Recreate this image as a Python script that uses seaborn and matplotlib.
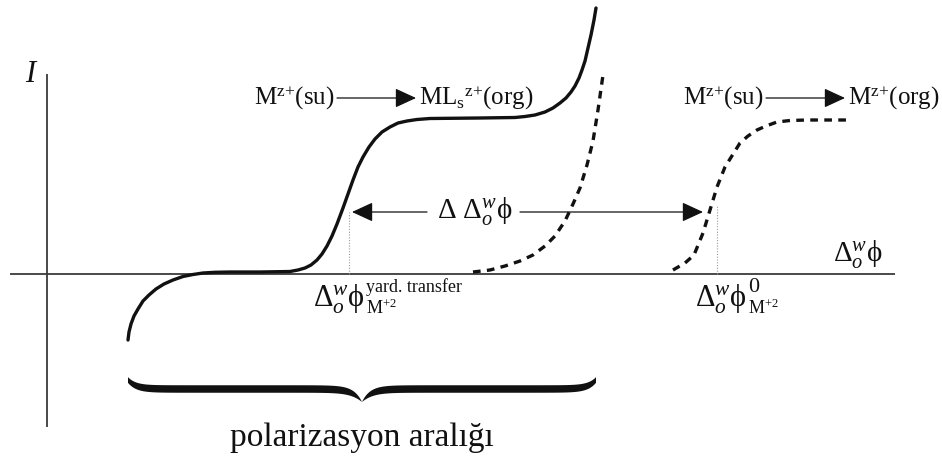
import numpy as np
import matplotlib
matplotlib.use("Agg")
import matplotlib.pyplot as plt
import seaborn as sns

# Facilitated (ligand-assisted) transfer wave: potential E vs current I
solid_E = [8.1, 8.2, 8.4, 8.7, 9.1, 9.6, 10.2, 10.9, 11.7, 12.6, 13.6, 14.6,
           15.6, 16.8, 18.3, 21.3, 24.3, 25.1, 25.8, 26.4, 27.0, 27.5, 28.0,
           28.5, 29.0, 29.6, 30.1, 30.6, 31.1, 31.6, 32.2, 32.8, 33.5, 34.3,
           35.1, 36.0, 37.0, 38.3, 43.3, 46.8, 47.8, 48.8, 49.8, 50.6, 51.3,
           51.9, 52.4, 52.8, 53.2, 53.5, 53.8, 54.1, 54.4, 54.7, 54.9]
solid_I = [-6.6, -5.8, -5.0, -4.2, -3.5, -2.7, -2.1, -1.5, -1.0, -0.6, -0.25,
           -0.05, 0.1, 0.17, 0.2, 0.2, 0.25, 0.4, 0.6, 0.9, 1.4, 2.0, 2.8,
           3.8, 5.0, 6.6, 8.0, 9.4, 10.7, 11.7, 12.7, 13.5, 14.2, 14.7,
           15.1, 15.3, 15.45, 15.55, 15.6, 15.65, 15.75, 15.9, 16.2, 16.6, 17.1,
           17.6, 18.2, 18.8, 19.6, 20.4, 21.3, 22.6, 23.9, 25.4, 26.6]

# Background limit without the ligand
limit_E = [42.6, 44.3, 45.8, 47.3, 48.6, 49.8, 50.8, 51.8, 52.6, 53.3, 54.0,
           54.6, 55.1, 55.6]
limit_I = [0.2, 0.4, 0.8, 1.3, 1.9, 2.8, 3.8, 5.3, 7.0, 8.6, 10.9, 13.3, 16.4,
           19.9]

# Simple ion transfer wave
simple_E = [62.6, 63.8, 64.7, 65.6, 66.3, 67.0, 67.8, 69.3, 70.1, 71.0, 71.9,
            73.0, 74.3, 76.0, 80.3]
simple_I = [0.4, 1.1, 1.9, 4.1, 6.4, 8.7, 10.7, 13.1, 13.8, 14.4, 14.8,
            15.2, 15.35, 15.4, 15.4]

# Characteristic potentials and their marker heights
E_facilitated = 30.2
E_standard = 67.0
marker_top = [6.2, 6.9]

# Text
reaction_left = [r"M$^{\mathrm{z{+}}}$(su)", r"ML$_{\mathrm{s}}{}^{\mathrm{z{+}}}$(org)"]
reaction_right = [r"M$^{\mathrm{z{+}}}$(su)", r"M$^{\mathrm{z{+}}}$(org)"]
label_shift = r"$\Delta\ \Delta^{w}_{o}\mathrm{\phi}$"
label_potential = r"$\Delta^{w}_{o}\mathrm{\phi}$"
sup_facilitated = "yard. transfer"
sup_standard = "0"
sub_ion = r"M$^{{+}2}$"
label_window = "polarizasyon aralığı"
label_yaxis = "I"

sns.set_theme(style="white")
plt.rcParams["font.family"] = ["Liberation Serif", "DejaVu Serif"]
plt.rcParams["mathtext.fontset"] = "custom"
plt.rcParams["mathtext.rm"] = "Liberation Serif"
plt.rcParams["mathtext.it"] = "Liberation Serif:italic"
plt.rcParams["mathtext.bf"] = "Liberation Serif:bold"

fig = plt.figure(figsize=(9.42, 4.58), dpi=100)
ax = fig.add_axes([0, 0, 1, 1])
ax.set_xlim(-4.7, 89.5)
ax.set_ylim(-18.4, 27.4)
ax.axis("off")

ink = "#111111"
axis_col = "#3a3a3a"

# coordinate axes
ax.plot([0, 0], [-15.3, 20.0], color=axis_col, lw=1.3, solid_capstyle="butt")
ax.plot([-3.7, 84.8], [0, 0], color=axis_col, lw=1.3, solid_capstyle="butt")

# waves
line_kw = dict(sort=False, estimator=None, color=ink, lw=2.4, ax=ax)
sns.lineplot(x=solid_E, y=solid_I, solid_joinstyle="round",
             solid_capstyle="round", **line_kw)
sns.lineplot(x=limit_E, y=limit_I, linestyle=(0, (2.3, 1.9)), **line_kw)
sns.lineplot(x=simple_E, y=simple_I, linestyle=(0, (2.3, 1.9)), **line_kw)

# potential markers
for e, top in zip([E_facilitated, E_standard], marker_top):
    ax.plot([e, e], [0, top], color="#9a9a9a", lw=0.8, ls=(0, (1, 1.5)))

# double arrow with the shift label in the middle
y_arrow = marker_top[0]
arrow_kw = dict(arrowstyle="-|>,head_length=0.65,head_width=0.3",
                color=ink, lw=0.9, shrinkA=0, shrinkB=0, mutation_scale=20)
mid_E = 42.8
ax.annotate("", xy=(E_facilitated + 0.3, y_arrow), xytext=(mid_E - 4.8, y_arrow),
            arrowprops=arrow_kw)
ax.annotate("", xy=(E_standard - 1.4, y_arrow), xytext=(mid_E + 4.5, y_arrow),
            arrowprops=arrow_kw)
ax.text(mid_E, y_arrow, label_shift, ha="center", va="center", fontsize=21,
        color=ink)

# reaction schemes
y_react = 17.6
ax.text(28.7, y_react, reaction_left[0], ha="right", va="center", fontsize=18,
        color=ink)
ax.annotate("", xy=(36.9, y_react), xytext=(29.0, y_react), arrowprops=arrow_kw)
ax.text(37.2, y_react, reaction_left[1], ha="left", va="center", fontsize=18,
        color=ink)

ax.text(71.6, y_react, reaction_right[0], ha="right", va="center", fontsize=18,
        color=ink)
ax.annotate("", xy=(79.8, y_react), xytext=(71.9, y_react), arrowprops=arrow_kw)
ax.text(80.1, y_react, reaction_right[1], ha="left", va="center", fontsize=18,
        color=ink)

# axis labels
ax.text(-1.7, 19.9, label_yaxis, ha="center", va="center", fontsize=22,
        style="italic", color=ink)
ax.text(81.1, 1.9, label_potential, ha="center", va="center", fontsize=21,
        color=ink)

# potential labels below the axis, with their own super/subscripts
fig.canvas.draw()
renderer = fig.canvas.get_renderer()
inv = ax.transData.inverted()
for x_left, sup in [(26.6, sup_facilitated), (64.8, sup_standard)]:
    base = ax.text(x_left, -0.9, label_potential, ha="left", va="top",
                   fontsize=22, color=ink)
    bb = base.get_window_extent(renderer)
    right_E = inv.transform((bb.x1, bb.y1))[0]
    ax.text(right_E + 0.1, -1.3, sup, ha="left", va="center",
            fontsize=13 if len(sup) > 1 else 16, color=ink)
    ax.text(right_E + 0.1, -3.4, sub_ion, ha="left", va="center",
            fontsize=13, color=ink)

# curly brace spanning the polarization window
left, right = solid_E[0], solid_E[-1]
half = (right - left) / 2
u = np.linspace(0, half, 300)
y_end = -10.6
centre = y_end - 0.9 * (1 - np.exp(-u / 0.8)) - 1.3 * np.exp((u - half) / 0.9)
thick = 0.75 * (0.75 + 0.25 * (1 - np.exp(-u / 1.0))) * (1 - np.exp(-(half - u) / 0.6))
xs_l = left + u
xs_r = right - u
upper = centre + thick / 2
lower = centre - thick / 2
ax.fill(np.concatenate([xs_l, xs_l[::-1]]),
        np.concatenate([upper, lower[::-1]]), color=ink, lw=0)
ax.fill(np.concatenate([xs_r, xs_r[::-1]]),
        np.concatenate([upper, lower[::-1]]), color=ink, lw=0)

ax.text(left + half, -16.4, label_window, ha="center", va="center",
        fontsize=24, color=ink)

fig.savefig("out.png", dpi=100, facecolor="white")
